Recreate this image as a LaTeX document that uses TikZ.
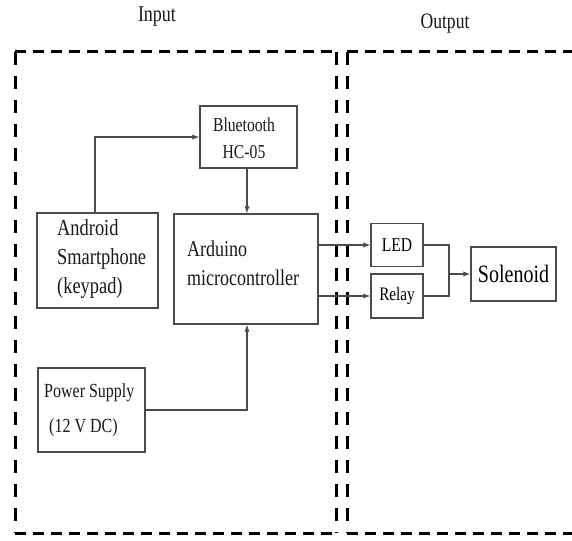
\documentclass[tikz,border=0pt]{standalone}
\usepackage{fontspec}
\setmainfont[FakeStretch=0.8]{Liberation Serif}
\usetikzlibrary{arrows.meta}
\newcommand{\fs}[2]{\fontsize{#1}{#2}\selectfont}
\begin{document}
\begin{tikzpicture}[x=1pt,y=-1pt,
  blk/.style={draw=black!70, line width=1.4pt, rectangle, inner sep=0pt},
  txt/.style={inner sep=0pt, text=black!90},
  conn/.style={draw=black!70, line width=1.2pt},
  arr/.style={conn, -{Latex[length=7pt,width=5.5pt]}},
  hgrp/.style={draw=black, line width=3pt, dash pattern=on 11pt off 7pt},
  vgrp/.style={draw=black, line width=3pt, dash pattern=on 13pt off 11pt}]
\useasboundingbox (0,0) rectangle (572,540);
% group labels
\node[txt, font=\fs{22.5}{27}] (inlbl) at (157,17) {Input};
\node[txt, font=\fs{22}{27}] (outlbl) at (445,24) {Output};
% dashed group boxes
\coordinate (i1) at (15,52);
\coordinate (i2) at (336,52);
\coordinate (i3) at (336,533);
\coordinate (i4) at (15,533);
\coordinate (o1) at (347,52);
\coordinate (o2) at (580,52);
\coordinate (o3) at (580,533);
\coordinate (o4) at (347,533);
\draw[hgrp] (i1) -- (i2);
\draw[hgrp] (i4) -- (i3);
\draw[vgrp] (i1) -- (i4);
\draw[vgrp] (i2) -- (i3);
\draw[hgrp] (o1) -- (o2);
\draw[hgrp] (o4) -- (o3);
\draw[vgrp] (o1) -- (o4);
% blocks
\node[blk, minimum width=97pt, minimum height=62pt] (bt) at (248.5,137) {};
\node[txt, align=center, font=\fs{19.6}{27}] (bttxt) at (244,138.5) {Bluetooth\\HC-05};
\node[blk, minimum width=121pt, minimum height=95pt] (android) at (97.5,260.5) {};
\node[txt, align=left, anchor=west, font=\fs{23}{29}] (androidtxt) at (57,259) {Android\\Smartphone\\(keypad)};
\node[blk, minimum width=144pt, minimum height=110pt] (ard) at (246,269) {};
\node[txt, align=left, anchor=west, font=\fs{22.5}{29}] (ardtxt) at (187,263.5) {Arduino\\microcontroller};
\node[blk, minimum width=107pt, minimum height=84pt] (pwr) at (91.5,410) {};
\node[txt, align=left, anchor=west, font=\fs{20}{35}] (pwrtxt) at (44,410) {Power Supply\\\hspace*{5pt}(12 V DC)};
\node[blk, minimum width=52pt, minimum height=43pt, font=\fs{19.5}{24}] (led) at (397,245) {LED};
\node[blk, minimum width=52pt, minimum height=44pt, font=\fs{19}{24}] (relay) at (397,296) {Relay};
\node[blk, minimum width=85pt, minimum height=54pt, font=\fs{25}{30}] (sol) at (513.5,274) {Solenoid};
% connectors
\draw[arr] (android.north -| 95,0) |- (bt.west);
\draw[arr] (bt.south -| 247,0) -- (ard.north -| 247,0);
\draw[arr] (pwr.east) -| (ard.south -| 247,0);
\draw[arr] (ard.east |- led.west) -- (led.west);
\draw[arr] (ard.east |- relay.west) -- (relay.west);
\coordinate (j) at (449,274);
\draw[conn] (led.east) -| (j) |- (relay.east);
\draw[arr] (j) -- (sol.west);
\end{tikzpicture}
\end{document}
